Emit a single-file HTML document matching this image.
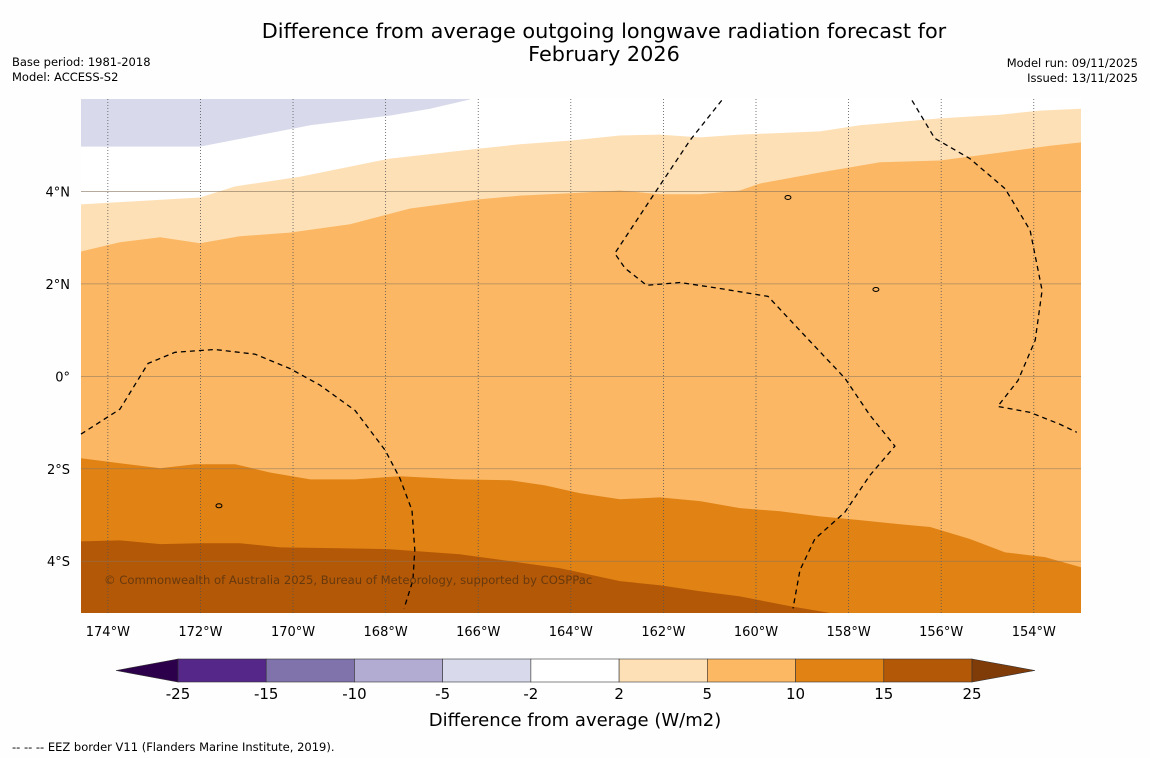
<!DOCTYPE html>
<html><head><meta charset="utf-8"><style>
body{margin:0;background:#fefefe;font-family:"DejaVu Sans","Liberation Sans",sans-serif;}
svg{display:block;font-family:"DejaVu Sans","Liberation Sans",sans-serif;}
</style></head><body>
<svg id="s" width="1150" height="758" viewBox="0 0 1150 758">
<rect x="0" y="0" width="1150" height="758" fill="#fefefe"/>
<text x="604" y="38" font-size="20.8" text-anchor="middle">Difference from average outgoing longwave radiation forecast for</text>
<text x="604" y="61" font-size="20.8" text-anchor="middle">February 2026</text>
<text x="12" y="66" font-size="11.5">Base period: 1981-2018</text>
<text x="12" y="81" font-size="11.5">Model: ACCESS-S2</text>
<text x="1138" y="67" font-size="11.5" text-anchor="end">Model run: 09/11/2025</text>
<text x="1138" y="82" font-size="11.5" text-anchor="end">Issued: 13/11/2025</text>
<text x="12" y="751" font-size="11.5">--  --  -- EEZ border V11 (Flanders Marine Institute, 2019).</text>
<g id="map"></g>
<g id="cb"></g>
<text x="575" y="726" font-size="18" text-anchor="middle">Difference from average (W/m2)</text>
</svg>
<script>
const NS="http://www.w3.org/2000/svg";
// map extent
const lonMin=-174.58, lonMax=-152.98, latMin=-5.12, latMax=6.0;
const X0=81,X1=1081,Y0=99,Y1=613;
function px(lon){return X0+(lon-lonMin)/(lonMax-lonMin)*(X1-X0);}
function py(lat){return Y0+(latMax-lat)/(latMax-latMin)*(Y1-Y0);}
// contour boundaries [lon,lat]
const negBand=[[-174.58,4.97],[-172.01,4.97],[-169.63,5.43],[-167.91,5.64],[-167.04,5.79],[-166.18,5.99]];
const top2=[[-174.58,3.72],[-172.01,3.87],[-171.25,4.11],[-169.85,4.32],[-167.91,4.71],[-165.96,4.93],[-165.1,5.02],[-164.02,5.1],[-162.94,5.21],[-162.08,5.23],[-161.21,5.17],[-160.35,5.23],[-158.62,5.3],[-157.76,5.43],[-156.03,5.58],[-154.73,5.66],[-153.87,5.75],[-152.98,5.79]];
const top5=[[-174.58,2.7],[-173.74,2.9],[-172.87,3.01],[-172.01,2.88],[-171.15,3.03],[-170.07,3.11],[-168.77,3.29],[-167.47,3.63],[-165.96,3.83],[-165.1,3.91],[-164.02,3.96],[-162.94,4.02],[-162.08,3.94],[-161.21,3.94],[-160.35,4.02],[-159.92,4.17],[-158.62,4.41],[-157.32,4.63],[-156.03,4.67],[-154.73,4.84],[-153.65,4.99],[-152.98,5.06]];
const top10=[[-174.58,-1.77],[-173.74,-1.88],[-172.87,-1.99],[-172.12,-1.9],[-171.25,-1.9],[-170.5,-2.08],[-169.63,-2.23],[-168.66,-2.23],[-167.69,-2.16],[-166.4,-2.23],[-165.31,-2.25],[-164.56,-2.36],[-163.8,-2.53],[-162.94,-2.66],[-162.08,-2.62],[-161.21,-2.7],[-160.35,-2.85],[-159.48,-2.92],[-158.62,-3.03],[-157.76,-3.11],[-156.89,-3.2],[-156.24,-3.26],[-155.38,-3.52],[-154.62,-3.81],[-153.76,-3.91],[-152.98,-4.13]];
const top15=[[-174.58,-3.57],[-173.74,-3.55],[-172.87,-3.63],[-172.01,-3.61],[-171.15,-3.61],[-170.28,-3.7],[-168.99,-3.72],[-167.91,-3.74],[-166.4,-3.85],[-165.31,-4.0],[-164.23,-4.15],[-162.94,-4.43],[-162.08,-4.52],[-161.21,-4.65],[-160.35,-4.76],[-159.27,-4.97],[-158.4,-5.12]];
const eezA=[[-174.58,-1.25],[-173.74,-0.71],[-173.13,0.28],[-172.55,0.52],[-171.69,0.58],[-170.82,0.48],[-170.07,0.17],[-169.42,-0.19],[-168.66,-0.74],[-168.01,-1.6],[-167.69,-2.21],[-167.43,-2.9],[-167.37,-3.76],[-167.41,-4.41],[-167.6,-5.02]];
const eezB=[[-160.74,5.97],[-161.43,5.1],[-162.29,3.81],[-163.05,2.66],[-162.83,2.34],[-162.36,1.97],[-161.64,2.03],[-160.78,1.9],[-159.74,1.73],[-159.05,0.99],[-158.08,-0.04],[-157.54,-0.84],[-157.0,-1.51],[-157.54,-2.14],[-158.08,-2.94],[-158.73,-3.52],[-159.05,-4.19],[-159.2,-5.02]];
const eezC=[[-156.63,5.97],[-156.14,5.15],[-155.38,4.71],[-154.62,4.06],[-154.08,3.16],[-153.82,1.86],[-153.97,0.78],[-154.34,-0.09],[-154.78,-0.65],[-154.08,-0.78],[-153.43,-1.04],[-153.07,-1.21]];
const lonTicks=[-174,-172,-170,-168,-166,-164,-162,-160,-158,-156,-154];
const latTicks=[4,2,0,-2,-4];
const latLabels=["4°N","2°N","0°","2°S","4°S"];
// colorbar data
const cbLevels=[-25,-15,-10,-5,-2,2,5,10,15,25];
const cbColors=["#542788","#8073ac","#b2abd2","#d8daeb","#ffffff","#fee0b6","#fdb863","#e08214","#b35806"];
const map=document.getElementById('map');
function el(t,a,p){const e=document.createElementNS(NS,t);for(const k in a)e.setAttribute(k,a[k]);(p||map).appendChild(e);return e;}
function pts(arr){return arr.map(p=>px(p[0]).toFixed(1)+","+py(p[1]).toFixed(1));}
function bandBelow(arr){return pts(arr).join(" ")+" "+px(lonMax)+","+py(latMin)+" "+px(lonMin)+","+py(latMin);}
let e;
e=el('rect',{x:X0,y:Y0,width:X1-X0,height:Y1-Y0,fill:'#ffffff'});


e=el('polygon',{points:px(lonMin)+","+py(latMax)+" "+pts(negBand).join(" ")+" "+px(negBand[negBand.length-1][0])+","+py(latMax),fill:'#d8daeb'});


e=el('polygon',{points:bandBelow(top2),fill:'#fee0b6'});


e=el('polygon',{points:bandBelow(top5),fill:'#fbb763'});


e=el('polygon',{points:bandBelow(top10),fill:'#e08214'});


const t15=pts(top15);
e=el('polygon',{points:t15.join(" ")+" "+px(lonMin)+","+py(latMin),fill:'#b35806'});


// gridlines
lonTicks.forEach(l=>{
 const g=el('line',{x1:px(l),x2:px(l),y1:Y0,y2:Y1,stroke:'#555',"stroke-width":0.8,"stroke-dasharray":"1,2"});
 
 
 const t=el('text',{x:px(l),y:636,"font-size":13,"text-anchor":"middle"});
 t.textContent=Math.abs(l)+"°W";
 
 
});
latTicks.forEach((l,i)=>{
 const g=el('line',{x1:X0,x2:X1,y1:py(l),y2:py(l),stroke:'#8a7660',"stroke-width":0.8,opacity:0.7});
 
 
 const t=el('text',{x:70,y:py(l)+5,"font-size":13,"text-anchor":"end"});
 t.textContent=latLabels[i];
 
 
});
[eezA,eezB,eezC].forEach(a=>{
 const p=el('polyline',{points:pts(a).join(" "),fill:'none',stroke:'#000',"stroke-width":1.3,"stroke-dasharray":"5,4"});
 
 
});
// islands
[[-157.41,1.88],[-159.31,3.87],[-171.6,-2.8]].forEach(c=>{
 const i=el('ellipse',{cx:px(c[0]),cy:py(c[1]),rx:3,ry:2,fill:'none',stroke:'#000',"stroke-width":1});
 
 
});
e=el('text',{x:104,y:584,"font-size":11.6,fill:'#5a3410',opacity:0.85});
e.textContent="© Commonwealth of Australia 2025, Bureau of Meteorology, supported by COSPPac";


// colorbar
const cb=document.getElementById('cb');
const cbX0=178,cbX1=972,cbY=659,cbH=23,segW=(cbX1-cbX0)/cbColors.length;
cbColors.forEach((c,i)=>{
 const r=el('rect',{x:cbX0+i*segW,y:cbY,width:segW,height:cbH,fill:c,stroke:'#333',"stroke-width":0.6},cb);
 
 
});
e=el('polygon',{points:`${cbX0},${cbY} 116,${cbY+cbH/2} ${cbX0},${cbY+cbH}`,fill:'#2d004b',stroke:'#333',"stroke-width":0.6},cb);


e=el('polygon',{points:`${cbX1},${cbY} 1035,${cbY+cbH/2} ${cbX1},${cbY+cbH}`,fill:'#7f3b08',stroke:'#333',"stroke-width":0.6},cb);


cbLevels.forEach((v,i)=>{
 const t=el('text',{x:cbX0+i*segW,y:699,"font-size":15,"text-anchor":"middle"},cb);
 t.textContent=v;
 
 
});
</script>
</body></html>
